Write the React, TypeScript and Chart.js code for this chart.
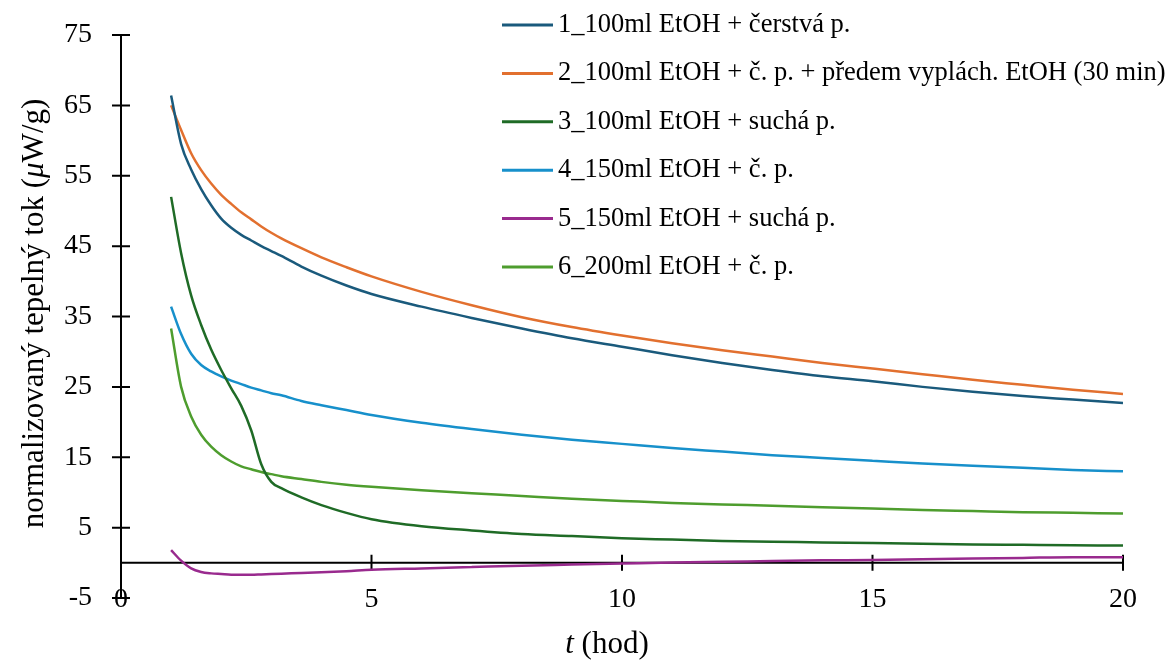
import React, { useEffect, useRef } from 'react';
import { Chart, registerables } from 'chart.js';

Chart.register(...registerables);

// ---- data ----
const time = [1.0, 1.2, 1.4, 1.6, 1.8, 2.0, 2.2, 2.4, 2.6, 2.8, 3.0, 3.2, 3.6, 4.0, 4.5, 5, 6, 7, 8, 9, 10, 11, 12, 13, 14, 15, 16, 17, 18, 19, 20];

const series1 = [66.4, 59.5, 55.9, 53.1, 50.8, 48.9, 47.6, 46.6, 45.8, 45.0, 44.3, 43.6, 42.1, 40.8, 39.4, 38.2, 36.4, 34.8, 33.3, 31.9, 30.7, 29.5, 28.4, 27.4, 26.5, 25.8, 25.0, 24.3, 23.7, 23.2, 22.7];
const series2 = [65.0, 61.5, 58.2, 55.8, 53.9, 52.3, 51.0, 49.8, 48.8, 47.8, 46.9, 46.1, 44.7, 43.4, 42.0, 40.7, 38.5, 36.6, 34.9, 33.5, 32.3, 31.2, 30.2, 29.3, 28.4, 27.6, 26.8, 26.0, 25.3, 24.6, 24.0];
const series3 = [52.0, 44.0, 38.0, 33.8, 30.3, 27.4, 24.8, 22.3, 18.8, 14.0, 11.5, 10.6, 9.3, 8.2, 7.1, 6.2, 5.2, 4.6, 4.1, 3.8, 3.5, 3.3, 3.1, 3.0, 2.9, 2.8, 2.7, 2.6, 2.55, 2.5, 2.45];
const series4 = [36.4, 32.5, 29.7, 28.1, 27.2, 26.5, 25.9, 25.4, 24.9, 24.5, 24.1, 23.8, 23.0, 22.4, 21.7, 21.0, 19.9, 19.0, 18.2, 17.5, 16.9, 16.3, 15.8, 15.3, 14.9, 14.5, 14.1, 13.8, 13.5, 13.2, 13.0];
const series5 = [1.8, 0.3, -0.8, -1.3, -1.5, -1.6, -1.7, -1.7, -1.7, -1.65, -1.6, -1.55, -1.45, -1.35, -1.2, -1.0, -0.8, -0.6, -0.4, -0.25, -0.1, 0.05, 0.15, 0.25, 0.35, 0.4, 0.5, 0.6, 0.7, 0.8, 0.8];
const series6 = [33.3, 25.0, 20.8, 18.2, 16.5, 15.3, 14.4, 13.7, 13.3, 12.9, 12.6, 12.3, 11.9, 11.5, 11.1, 10.8, 10.3, 9.9, 9.5, 9.1, 8.8, 8.5, 8.3, 8.1, 7.9, 7.7, 7.5, 7.35, 7.2, 7.1, 7.0];

const seriesLabels = [
  '1_100ml EtOH + čerstvá p.',
  '2_100ml EtOH + č. p. + předem vyplách. EtOH (30 min)',
  '3_100ml EtOH + suchá p.',
  '4_150ml EtOH + č. p.',
  '5_150ml EtOH + suchá p.',
  '6_200ml EtOH + č. p.',
];
const seriesColors = ['#1a5a7c', '#e2702f', '#1f6b26', '#1790cb', '#992a8e', '#4e9d2e'];
const allSeries = [series1, series2, series3, series4, series5, series6];

const xTitleItalic = 't';
const xTitleRest = ' (hod)';
const yTitleStart = 'normalizovaný tepelný tok (';
const yTitleItalic = 'μ';
const yTitleEnd = 'W/g)';

const FONT = '"Liberation Serif", "Times New Roman", Times, serif';

const crossAxesPlugin = {
  id: 'crossAxes',
  beforeDatasetsDraw(chart: any) {
    const { ctx, scales } = chart;
    const xs = scales.x;
    const ys = scales.y;
    const x0 = xs.getPixelForValue(0);
    const y0 = ys.getPixelForValue(0);
    ctx.save();
    ctx.strokeStyle = '#000';
    ctx.lineWidth = 2;
    ctx.beginPath();
    ctx.moveTo(x0, ys.getPixelForValue(ys.max));
    ctx.lineTo(x0, ys.getPixelForValue(ys.min));
    ys.ticks.forEach((t: any) => {
      const py = ys.getPixelForValue(t.value);
      ctx.moveTo(x0 - 9, py);
      ctx.lineTo(x0 + 9, py);
    });
    ctx.moveTo(x0, y0);
    ctx.lineTo(xs.getPixelForValue(xs.max), y0);
    xs.ticks.forEach((t: any) => {
      if (t.value === 0) return;
      const px = xs.getPixelForValue(t.value);
      ctx.moveTo(px, y0 - 8);
      ctx.lineTo(px, y0 + 8);
    });
    ctx.stroke();
    ctx.restore();
  },
};

const legendTitlesPlugin = {
  id: 'legendTitles',
  afterDraw(chart: any) {
    const { ctx, chartArea } = chart;
    ctx.save();
    // legend
    ctx.font = `26.5px ${FONT}`;
    ctx.textBaseline = 'middle';
    ctx.textAlign = 'left';
    chart.data.datasets.forEach((ds: any, i: number) => {
      const yy = 25 + i * 48.4;
      ctx.strokeStyle = ds.borderColor;
      ctx.lineWidth = 3;
      ctx.beginPath();
      ctx.moveTo(502, yy);
      ctx.lineTo(553, yy);
      ctx.stroke();
      ctx.fillStyle = '#000';
      ctx.fillText(ds.label, 558, yy);
    });

    // x title
    const fNormal = `31px ${FONT}`;
    const fItalic = `italic 31px ${FONT}`;
    ctx.font = fItalic;
    const w1 = ctx.measureText(xTitleItalic).width;
    ctx.font = fNormal;
    const w2 = ctx.measureText(xTitleRest).width;
    const cx = (chartArea.left + chartArea.right) / 2 - 15;
    const sx = cx - (w1 + w2) / 2;
    const ty = 645;
    ctx.font = fItalic;
    ctx.fillText(xTitleItalic, sx, ty);
    ctx.font = fNormal;
    ctx.fillText(xTitleRest, sx + w1, ty);

    // y title
    ctx.font = fNormal;
    const a = ctx.measureText(yTitleStart).width;
    const c = ctx.measureText(yTitleEnd).width;
    ctx.font = fItalic;
    const b = ctx.measureText(yTitleItalic).width;
    const total = a + b + c;
    ctx.translate(35, (chartArea.top + chartArea.bottom) / 2 - 3);
    ctx.rotate(-Math.PI / 2);
    let px = -total / 2;
    ctx.font = fNormal;
    ctx.fillText(yTitleStart, px, 0);
    px += a;
    ctx.font = fItalic;
    ctx.fillText(yTitleItalic, px, 0);
    px += b;
    ctx.font = fNormal;
    ctx.fillText(yTitleEnd, px, 0);
    ctx.restore();
  },
};

export default function App() {
  const canvasRef = useRef<HTMLCanvasElement | null>(null);

  useEffect(() => {
    if (!canvasRef.current) return;
    const datasets = allSeries.map((vals, i) => ({
      label: seriesLabels[i],
      data: vals.map((v, j) => ({ x: time[j], y: v })),
      borderColor: seriesColors[i],
      backgroundColor: seriesColors[i],
      borderWidth: 2.5,
      pointRadius: 0,
      fill: false,
      cubicInterpolationMode: 'monotone' as const,
    }));

    const chart = new Chart(canvasRef.current, {
      type: 'line',
      data: { datasets },
      options: {
        animation: false,
        responsive: false,
        maintainAspectRatio: false,
        layout: { padding: { top: 35, right: 51, left: 0, bottom: 62 } },
        plugins: {
          legend: { display: false },
          tooltip: { enabled: false },
        },
        scales: {
          x: {
            type: 'linear',
            min: 0,
            max: 20,
            position: { y: -5 } as any,
            grid: { display: false, drawTicks: false },
            border: { display: false },
            ticks: {
              stepSize: 5,
              autoSkip: false,
              maxRotation: 0,
              color: '#000',
              padding: -15,
              font: { family: FONT, size: 28, lineHeight: 1.2 },
            },
          },
          y: {
            type: 'linear',
            min: -5,
            max: 75,
            position: 'left',
            afterFit: (s: any) => {
              s.width = 121;
            },
            grid: { display: false, drawTicks: true, tickLength: 25 },
            border: { display: false },
            ticks: {
              stepSize: 10,
              autoSkip: false,
              color: '#000',
              padding: 4,
              font: { family: FONT, size: 28, lineHeight: 1.2 },
            },
          },
        },
      },
      plugins: [crossAxesPlugin, legendTitlesPlugin],
    });
    return () => chart.destroy();
  }, []);

  return (
    <div style={{ position: 'absolute', left: 0, top: 0, width: 1174, height: 660, background: '#fff' }}>
      <canvas ref={canvasRef} width={1174} height={660} style={{ width: 1174, height: 660, display: 'block' }} />
    </div>
  );
}
